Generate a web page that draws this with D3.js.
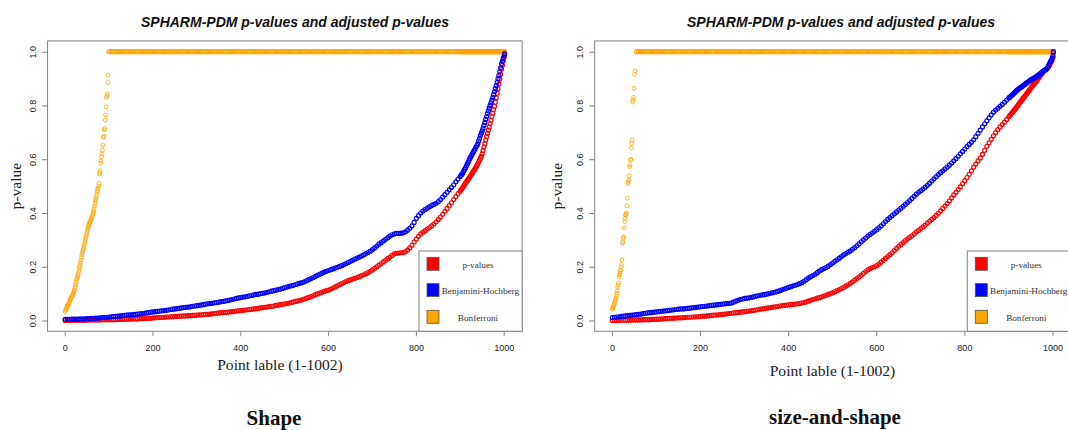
<!DOCTYPE html>
<html><head><meta charset="utf-8">
<script src="https://cdn.jsdelivr.net/npm/d3@7"></script>
<style>body{margin:0;background:#fff}</style>
</head><body><svg id="c" width="1068" height="430"></svg>
<script>
// ---------- DATA ----------
// sampled point labels (x) shared by p-value and BH series
const sampleIdx = [...d3.range(1, 900, 5), ...d3.range(901, 1002, 2), 1002];

const shapeP = [
0.000,0.000,0.000,0.000,0.001,0.001,0.001,0.001,0.001,0.001,0.001,0.002,0.002,0.002,0.002,0.002,0.002,0.003,0.003,0.003,
0.003,0.003,0.003,0.004,0.004,0.004,0.004,0.005,0.005,0.005,0.006,0.006,0.006,0.006,0.007,0.007,0.007,0.008,0.008,0.008,
0.010,0.010,0.011,0.011,0.012,0.012,0.013,0.013,0.014,0.014,0.015,0.015,0.016,0.016,0.017,0.017,0.018,0.018,0.019,0.019,
0.020,0.021,0.021,0.022,0.023,0.023,0.024,0.025,0.026,0.027,0.028,0.029,0.029,0.030,0.031,0.032,0.033,0.034,0.035,0.036,
0.037,0.038,0.039,0.040,0.041,0.042,0.043,0.044,0.045,0.047,0.048,0.049,0.050,0.052,0.053,0.054,0.056,0.057,0.059,0.060,
0.062,0.063,0.065,0.067,0.069,0.071,0.073,0.075,0.077,0.080,0.083,0.086,0.089,0.092,0.096,0.099,0.102,0.105,0.108,0.111,
0.113,0.117,0.121,0.125,0.129,0.133,0.137,0.141,0.145,0.148,0.151,0.154,0.157,0.160,0.163,0.167,0.170,0.174,0.178,0.183,
0.188,0.194,0.200,0.206,0.212,0.218,0.224,0.230,0.236,0.242,0.248,0.250,0.251,0.252,0.253,0.256,0.262,0.270,0.280,0.292,
0.303,0.313,0.322,0.328,0.334,0.340,0.346,0.352,0.359,0.367,0.376,0.385,0.395,0.406,0.417,0.427,0.438,0.450,0.461,0.472,
0.482,0.486,0.491,0.496,0.501,0.506,0.511,0.516,0.520,0.525,
0.530,0.535,0.540,0.545,0.550,0.555,0.560,0.565,0.571,0.577,
0.583,0.590,0.597,0.604,0.611,0.620,0.632,0.645,0.658,0.671,
0.684,0.696,0.708,0.720,0.732,0.745,0.758,0.771,0.784,0.797,
0.812,0.828,0.845,0.862,0.880,0.898,0.916,0.935,0.950,0.965,
0.980,0.990];

const shapeBH = [
0.004,0.004,0.004,0.005,0.005,0.005,0.005,0.006,0.006,0.006,0.007,0.007,0.008,0.008,0.009,0.009,0.010,0.011,0.011,0.012,
0.013,0.014,0.015,0.015,0.016,0.017,0.018,0.019,0.020,0.021,0.021,0.022,0.023,0.024,0.025,0.026,0.027,0.028,0.029,0.031,
0.032,0.033,0.034,0.035,0.036,0.037,0.038,0.039,0.041,0.042,0.043,0.044,0.045,0.047,0.048,0.049,0.050,0.051,0.053,0.054,
0.055,0.056,0.058,0.059,0.061,0.062,0.063,0.064,0.066,0.067,0.068,0.070,0.071,0.073,0.074,0.076,0.078,0.080,0.082,0.084,
0.085,0.087,0.088,0.090,0.092,0.093,0.095,0.097,0.098,0.100,0.101,0.103,0.105,0.107,0.109,0.111,0.113,0.115,0.117,0.119,
0.122,0.124,0.127,0.129,0.131,0.134,0.136,0.139,0.141,0.144,0.148,0.152,0.156,0.160,0.164,0.168,0.172,0.176,0.180,0.183,
0.186,0.189,0.192,0.195,0.198,0.201,0.204,0.208,0.212,0.216,0.220,0.224,0.228,0.232,0.236,0.240,0.244,0.248,0.253,0.258,
0.264,0.270,0.277,0.284,0.290,0.296,0.302,0.308,0.314,0.319,0.322,0.324,0.324,0.325,0.326,0.330,0.336,0.343,0.352,0.365,
0.380,0.390,0.400,0.407,0.413,0.418,0.423,0.428,0.432,0.436,0.442,0.450,0.459,0.468,0.477,0.486,0.495,0.505,0.516,0.526,
0.536,0.540,0.545,0.550,0.556,0.562,0.568,0.575,0.582,0.589,
0.596,0.603,0.609,0.615,0.621,0.627,0.633,0.639,0.645,0.651,
0.658,0.668,0.678,0.688,0.697,0.706,0.715,0.726,0.737,0.748,
0.759,0.770,0.780,0.790,0.800,0.810,0.820,0.830,0.841,0.852,
0.863,0.874,0.886,0.899,0.912,0.926,0.940,0.955,0.965,0.975,
0.985,0.993];

// Bonferroni values below the cap, for point labels 1..n
const shapeBonf = [
0.033,0.038,0.042,0.045,0.051,0.054,0.056,0.059,0.062,0.066,0.070,
0.074,0.078,0.082,0.086,0.089,0.092,0.095,0.098,0.102,0.107,0.113,0.120,
0.126,0.134,0.142,0.150,0.157,0.163,0.169,0.175,0.184,0.193,
0.200,0.206,0.215,0.224,0.234,0.243,0.250,0.257,0.263,0.268,
0.276,0.284,0.292,0.299,0.307,0.315,0.323,0.330,0.337,0.344,
0.350,0.355,0.360,0.364,0.368,0.372,0.376,0.380,0.385,0.390,
0.396,0.402,0.408,0.416,0.425,0.436,0.444,0.452,0.461,0.470,
0.480,0.488,0.492,0.500,0.510,0.545,0.550,0.557,0.585,0.594,
0.609,0.619,0.634,0.653,0.682,0.686,0.709,0.714,0.746,0.765,
0.795,0.829,0.836,0.843,0.885,0.913];

const sizeShapeP = [
0.000,0.000,0.000,0.001,0.001,0.001,0.001,0.001,0.001,0.002,0.002,0.002,0.002,0.002,0.003,0.003,0.003,0.003,0.004,0.004,
0.005,0.005,0.006,0.006,0.007,0.007,0.008,0.008,0.009,0.009,0.010,0.010,0.011,0.011,0.012,0.012,0.013,0.013,0.014,0.014,
0.015,0.016,0.016,0.017,0.018,0.019,0.020,0.020,0.021,0.022,0.023,0.024,0.025,0.026,0.027,0.028,0.029,0.030,0.031,0.032,
0.033,0.034,0.035,0.036,0.038,0.039,0.040,0.042,0.043,0.044,0.046,0.047,0.048,0.050,0.051,0.052,0.054,0.055,0.056,0.057,
0.058,0.059,0.060,0.061,0.062,0.063,0.065,0.067,0.069,0.072,0.075,0.078,0.080,0.083,0.085,0.088,0.091,0.094,0.097,0.100,
0.103,0.107,0.111,0.115,0.119,0.123,0.128,0.133,0.138,0.144,0.150,0.156,0.162,0.168,0.175,0.182,0.188,0.193,0.197,0.200,
0.204,0.210,0.217,0.224,0.231,0.238,0.245,0.252,0.260,0.268,0.276,0.283,0.290,0.297,0.303,0.309,0.315,0.322,0.329,0.335,
0.342,0.348,0.355,0.362,0.369,0.376,0.383,0.391,0.399,0.408,0.417,0.426,0.435,0.445,0.456,0.467,0.477,0.487,0.498,0.509,
0.520,0.532,0.544,0.557,0.570,0.582,0.594,0.605,0.618,0.633,0.648,0.661,0.674,0.687,0.699,0.710,0.720,0.729,0.738,0.748,
0.758,0.762,0.766,0.770,0.774,0.778,0.782,0.786,0.790,0.795,
0.799,0.804,0.808,0.813,0.817,0.821,0.826,0.830,0.834,0.839,
0.843,0.847,0.852,0.856,0.860,0.865,0.869,0.873,0.878,0.882,
0.886,0.890,0.894,0.899,0.903,0.907,0.912,0.916,0.920,0.925,
0.929,0.932,0.934,0.937,0.940,0.944,0.950,0.957,0.962,0.968,
0.978,0.996];

const sizeShapeBH = [
0.011,0.012,0.013,0.014,0.015,0.016,0.017,0.018,0.019,0.020,0.021,0.022,0.023,0.024,0.026,0.027,0.028,0.029,0.030,0.031,
0.032,0.033,0.034,0.035,0.036,0.037,0.038,0.039,0.040,0.041,0.042,0.043,0.043,0.044,0.045,0.046,0.047,0.048,0.049,0.050,
0.051,0.052,0.053,0.054,0.055,0.056,0.057,0.058,0.059,0.060,0.061,0.062,0.063,0.064,0.065,0.068,0.072,0.075,0.078,0.080,
0.082,0.083,0.084,0.086,0.088,0.090,0.092,0.094,0.095,0.096,0.098,0.100,0.102,0.104,0.106,0.108,0.111,0.114,0.117,0.120,
0.123,0.126,0.129,0.131,0.134,0.137,0.141,0.146,0.152,0.158,0.163,0.167,0.172,0.178,0.184,0.189,0.193,0.197,0.202,0.208,
0.214,0.220,0.226,0.232,0.238,0.244,0.249,0.254,0.259,0.265,0.271,0.278,0.285,0.293,0.300,0.307,0.314,0.320,0.326,0.332,
0.338,0.345,0.352,0.360,0.368,0.376,0.383,0.390,0.397,0.404,0.411,0.418,0.425,0.432,0.439,0.446,0.454,0.462,0.470,0.477,
0.483,0.489,0.496,0.503,0.511,0.519,0.527,0.535,0.543,0.550,0.557,0.564,0.571,0.578,0.586,0.594,0.602,0.611,0.620,0.629,
0.638,0.647,0.655,0.663,0.672,0.684,0.696,0.708,0.720,0.732,0.743,0.754,0.765,0.775,0.783,0.790,0.797,0.804,0.812,0.820,
0.828,0.831,0.834,0.837,0.840,0.843,0.846,0.849,0.853,0.856,
0.859,0.861,0.864,0.866,0.868,0.871,0.873,0.876,0.878,0.881,
0.883,0.886,0.888,0.891,0.893,0.895,0.897,0.899,0.901,0.903,
0.905,0.907,0.909,0.911,0.914,0.917,0.919,0.922,0.925,0.928,
0.930,0.932,0.934,0.937,0.942,0.948,0.955,0.962,0.968,0.975,
0.985,1.000];

const sizeShapeBonf = [
0.042,0.046,0.051,0.056,0.060,0.064,0.072,0.078,0.083,0.090,
0.101,0.110,0.122,0.132,0.140,0.161,0.170,0.176,0.182,0.188,
0.200,0.209,0.225,0.287,0.293,0.306,0.312,0.345,0.368,0.380,
0.392,0.396,0.400,0.427,0.455,0.510,0.516,0.523,0.538,0.572,
0.579,0.597,0.600,0.641,0.659,0.672,0.813,0.820,0.830,0.864,
0.916,0.928];

const bonfCap = 1.0;           // Bonferroni values that reach the cap
const nPoints = 1002;
const xTicks = [0, 200, 400, 600, 800, 1000];
const yTicks = [0.0, 0.2, 0.4, 0.6, 0.8, 1.0];
const legendLabels = ["p-values", "Benjamini-Hochberg", "Bonferroni"];
const seriesColors = ["red", "blue", "orange"];
const panelTitle = "SPHARM-PDM p-values and adjusted p-values";
const xLabel = "Point lable (1-1002)";
const yLabel = "p-value";
const panelCaptions = ["Shape", "size-and-shape"];

// ---------- DRAW ----------
const SANS = "'Liberation Sans', Arial, Helvetica, sans-serif";
const SERIF = "'Liberation Serif', 'Times New Roman', Times, serif";
const svg = d3.select("#c");
svg.append("rect").attr("width",1068).attr("height",430).attr("fill","#fff");

const y = d3.scaleLinear().domain([0, 1]).range([320.5, 51.7]);

const panels = [
  {p: shapeP, bh: shapeBH, bonf: shapeBonf, caption: panelCaptions[0],
   xr: [64.7, 503.7], titleX: 295, xlabX: 280, xlabY: 369.5, ylabX: 20.5,
   capX: 274, capY: 425, legL: 419},
  {p: sizeShapeP, bh: sizeShapeBH, bonf: sizeShapeBonf, caption: panelCaptions[1],
   xr: [611.9, 1052.5], titleX: 841, xlabX: 832.5, xlabY: 376, ylabX: 561.5,
   capX: 835, capY: 424, legL: 967.3}
];

panels.forEach(P => {
  const x = d3.scaleLinear().domain([0, 1000]).range(P.xr);
  const pad = (nPoints - 1) * 0.04;
  const bx0 = x(1 - pad), bx1 = x(nPoints + pad);
  const by0 = y(1.04), by1 = y(-0.04);
  const g = svg.append("g");

  // title
  g.append("text").attr("x", P.titleX).attr("y", 26.7).attr("text-anchor","middle")
    .style("font-family", SANS).style("font-size","14px").style("font-weight","bold")
    .style("font-style","italic").attr("fill","#111").text(panelTitle);

  // points: Bonferroni, p-values, BH
  const pts = g.append("g").attr("fill","none");
  const bonfLow = P.bonf.map((v,i)=>({i:i+1, v}));
  const bonfTop = sampleIdx.filter(i => i > P.bonf.length).map(i => ({i, v: bonfCap}));
  pts.selectAll(".bl").data(bonfLow).join("circle").attr("class","bl")
    .attr("cx", d=>x(d.i)).attr("cy", d=>y(d.v)).attr("r",1.9)
    .attr("stroke", seriesColors[2]).attr("stroke-width",0.8);
  pts.selectAll(".bt").data(bonfTop).join("circle").attr("class","bt")
    .attr("cx", d=>x(d.i)).attr("cy", d=>y(d.v)).attr("r",2.0)
    .attr("stroke", seriesColors[2]).attr("stroke-width",1.3);
  pts.selectAll(".pv").data(P.p).join("circle").attr("class","pv")
    .attr("cx", (d,i)=>x(sampleIdx[i])).attr("cy", d=>y(d)).attr("r",2.0)
    .attr("stroke", seriesColors[0]).attr("stroke-width",1.2);
  pts.selectAll(".bh").data(P.bh).join("circle").attr("class","bh")
    .attr("cx", (d,i)=>x(sampleIdx[i])).attr("cy", d=>y(d)).attr("r",2.0)
    .attr("stroke", seriesColors[1]).attr("stroke-width",1.2);

  // box
  g.append("rect").attr("x",bx0).attr("y",by0).attr("width",bx1-bx0).attr("height",by1-by0)
    .attr("fill","none").attr("stroke","#808080").attr("stroke-width",1);

  // x axis
  const xa = g.append("g").attr("transform",`translate(0,${by1})`)
    .call(d3.axisBottom(x).tickValues(xTicks).tickSize(5).tickPadding(8.3).tickFormat(d3.format("d")));
  xa.select(".domain").remove();
  xa.selectAll("line").attr("stroke","#808080");
  xa.selectAll("text").style("font-family",SANS).style("font-size","9px").attr("fill","#222");

  // y axis
  const ya = g.append("g").attr("transform",`translate(${bx0},0)`)
    .call(d3.axisLeft(y).tickValues(yTicks).tickSize(5.6).tickFormat(d3.format(".1f")));
  ya.select(".domain").remove();
  ya.selectAll("line").attr("stroke","#808080");
  ya.selectAll("text").attr("x",null).attr("dy",null).attr("y",null)
    .attr("text-anchor","middle").attr("transform","translate(-11.5,0) rotate(-90)")
    .style("font-family",SANS).style("font-size","9px").attr("fill","#222");

  // axis titles
  g.append("text").attr("x",P.xlabX).attr("y",P.xlabY).attr("text-anchor","middle")
    .style("font-family",SERIF).style("font-size","15.6px").attr("fill","#222").text(xLabel);
  g.append("text").attr("transform",`translate(${P.ylabX},${(by0+by1)/2}) rotate(-90)`)
    .attr("text-anchor","middle").style("font-family",SERIF).style("font-size","15.6px")
    .attr("fill","#222").text(yLabel);

  // legend
  const L = P.legL, top = 251;
  g.append("rect").attr("x",L).attr("y",top).attr("width",bx1-L).attr("height",by1-top)
    .attr("fill","#fff").attr("stroke","#808080").attr("stroke-width",1);
  const sqY = [257.3, 283.6, 310.3];
  legendLabels.forEach((lab,k)=>{
    g.append("rect").attr("x",L+8).attr("y",sqY[k]).attr("width",12).attr("height",13)
      .attr("fill",seriesColors[k]).attr("stroke","#555").attr("stroke-width",0.8);
    const t = g.append("text").attr("y",sqY[k]+10.3)
      .style("font-family",SERIF).style("font-size","9.2px").attr("fill","#333").text(lab);
    if (k === 1) t.attr("x", L+22.7).attr("text-anchor","start");
    else t.attr("x", L+59).attr("text-anchor","middle");
  });

  // caption
  g.append("text").attr("x",P.capX).attr("y",P.capY).attr("text-anchor","middle")
    .style("font-family",SERIF).style("font-size","21px").style("font-weight","bold")
    .attr("fill","#111").text(P.caption);
});
</script></body></html>
